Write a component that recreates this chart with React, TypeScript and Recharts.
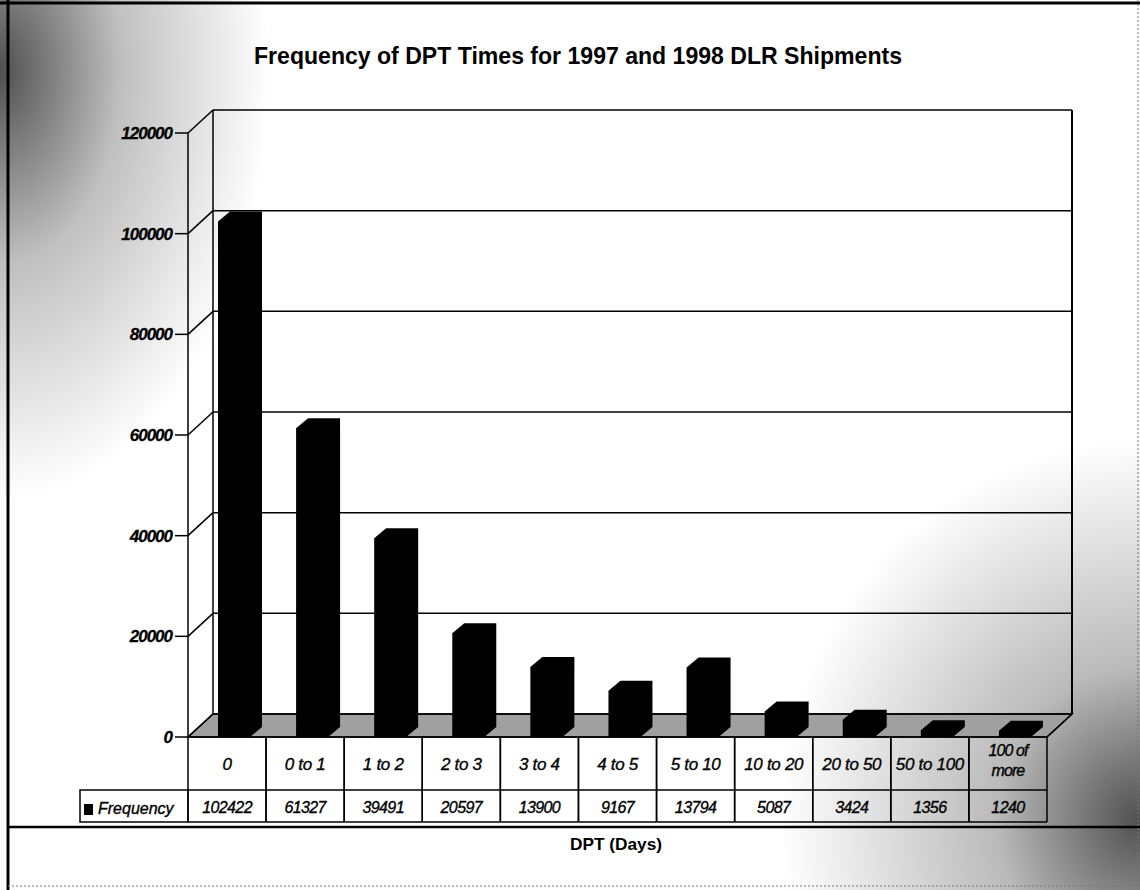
import { Bar, BarChart, CartesianGrid, ReferenceArea, XAxis, YAxis } from "recharts";

const categories = ["0", "0 to 1", "1 to 2", "2 to 3", "3 to 4", "4 to 5", "5 to 10", "10 to 20", "20 to 50", "50 to 100", "100 of more"];
const frequency = [102422, 61327, 39491, 20597, 13900, 9167, 13794, 5087, 3424, 1356, 1240];
const yTicks = [0, 20000, 40000, 60000, 80000, 100000, 120000];

const data = categories.map((name, i) => ({ name, frequency: frequency[i] }));

// depth of the 3d box and of the bars
const DX = 25;
const DY = 23;
const BX = 12;
const BY = 10;
const FONT = "'Liberation Sans', Arial, Helvetica, sans-serif";

function Bar3D(props: any) {
  const { x, y, width, height } = props;
  const l = x + 7;
  const r = l + width;
  const b = y + height;
  const pts = [
    [l, y],
    [l + BX, y - BY],
    [r + BX, y - BY],
    [r + BX, b - BY],
    [r, b],
    [l, b],
  ];
  return <polygon points={pts.map((p) => p.join(",")).join(" ")} fill="#000" />;
}

function gridLine(p: any) {
  const { x1, x2, y1, index } = p;
  return (
    <g key={`g-${index}`}>
      {index === 0 && (
        <polygon
          points={`${x1},${y1} ${x1 + DX},${y1 - DY} ${x2 + DX},${y1 - DY} ${x2},${y1}`}
          fill="#a0a0a0"
          stroke="#000"
          strokeWidth={1.5}
        />
      )}
      <line x1={x1} y1={y1} x2={x1 + DX} y2={y1 - DY} stroke="#000" strokeWidth={1.5} />
      <line x1={x1 + DX} y1={y1 - DY} x2={x2 + DX} y2={y1 - DY} stroke="#000" strokeWidth={1.5} />
    </g>
  );
}

function Walls(props: any) {
  const { x, y, width, height } = props;
  const b = y + height;
  const r = x + width;
  return (
    <g>
      <line x1={x + DX} y1={y - DY} x2={x + DX} y2={b - DY} stroke="#000" strokeWidth={1.5} />
      <line x1={r + DX} y1={y - DY} x2={r + DX} y2={b - DY} stroke="#000" strokeWidth={2} />
      <line x1={r} y1={b} x2={r + DX} y2={b - DY} stroke="#000" strokeWidth={1.5} />
    </g>
  );
}

function YTick(props: any) {
  const { x, y, payload } = props;
  return (
    <text
      x={x}
      y={y}
      dy={6}
      textAnchor="end"
      fontFamily={FONT}
      fontSize={17}
      fontWeight="bold"
      fontStyle="italic"
      letterSpacing={-1}
      fill="#000"
      stroke="#000"
      strokeWidth={0.3}
    >
      {payload.value}
    </text>
  );
}

function TableTick(props: any) {
  const { x, y, payload } = props;
  const i = payload.index;
  const half = payload.offset || 39;
  const l = x - half;
  const r = x + half;
  const label = categories[i];
  const lines = label === "100 of more" ? ["100 of", "more"] : [label];
  const txt = {
    fontFamily: FONT,
    fontStyle: "italic",
    fill: "#000",
    stroke: "#000",
    strokeWidth: 0.35,
    textAnchor: "middle" as const,
  };
  return (
    <g>
      <line x1={l} y1={y} x2={l} y2={y + 85} stroke="#000" strokeWidth={1.5} />
      <line x1={r} y1={y} x2={r} y2={y + 85} stroke="#000" strokeWidth={1.5} />
      <line x1={l} y1={y + 53} x2={r} y2={y + 53} stroke="#000" strokeWidth={1.5} />
      <line x1={l} y1={y + 85} x2={r} y2={y + 85} stroke="#000" strokeWidth={1.5} />
      {lines.length === 1 ? (
        <text x={x} y={y + 33} fontSize={17} letterSpacing={-0.3} {...txt}>
          {label}
        </text>
      ) : (
        <text x={x} y={y + 19} fontSize={16} letterSpacing={-0.9} {...txt}>
          <tspan x={x}>{lines[0]}</tspan>
          <tspan x={x} dy={20}>
            {lines[1]}
          </tspan>
        </text>
      )}
      <text x={x} y={y + 76} fontSize={16} letterSpacing={-0.6} {...txt}>
        {frequency[i]}
      </text>
      {i === 0 && (
        <g>
          <rect x={l - 108} y={y + 53} width={108} height={32} fill="none" stroke="#000" strokeWidth={1.5} />
          <rect x={l - 104} y={y + 67} width={9} height={11} fill="#000" />
          <text
            x={l - 90}
            y={y + 77}
            fontSize={16}
            fontFamily={FONT}
            fontStyle="italic"
            fill="#000"
            stroke="#000"
            strokeWidth={0.35}
          >
            Frequency
          </text>
        </g>
      )}
    </g>
  );
}

export default function App() {
  return (
    <div
      style={{
        position: "absolute",
        left: 0,
        top: 0,
        width: 1140,
        height: 890,
        overflow: "hidden",
        background:
          "radial-gradient(ellipse 270px 430px at 0px 70px, rgba(70,70,70,0.95) 0%, rgba(140,140,140,0.55) 45%, rgba(255,255,255,0) 100%)," +
          "radial-gradient(ellipse 360px 380px at 1140px 820px, rgba(70,70,70,0.95) 0%, rgba(140,140,140,0.6) 40%, rgba(255,255,255,0) 100%), #fff",
      }}
    >
      <div style={{ position: "absolute", left: 0, top: 0 }}>
        <BarChart width={1140} height={890} data={data} margin={{ top: 133, right: 93, left: 0, bottom: 0 }}>
          <CartesianGrid vertical={false} horizontal={gridLine} />
          <ReferenceArea y1={0} y2={120000} shape={Walls} ifOverflow="visible" />
          <XAxis
            dataKey="name"
            interval={0}
            height={153}
            tickLine={false}
            tickSize={0}
            tickMargin={0}
            axisLine={{ stroke: "#000", strokeWidth: 1.5 }}
            tick={TableTick}
          />
          <YAxis
            width={188}
            domain={[0, 120000]}
            ticks={yTicks}
            interval={0}
            tickSize={13}
            tickMargin={3}
            axisLine={{ stroke: "#000", strokeWidth: 1.5 }}
            tickLine={{ stroke: "#000", strokeWidth: 1.5 }}
            tick={YTick}
          />
          <Bar dataKey="frequency" barSize={32} shape={Bar3D} isAnimationActive={false} />
        </BarChart>
      </div>
      <svg width={1140} height={890} style={{ position: "absolute", left: 0, top: 0, pointerEvents: "none" }}>
        <text
          x={578}
          y={64}
          textAnchor="middle"
          fontFamily={FONT}
          fontSize={24}
          fontWeight="bold"
          textLength={648}
          lengthAdjust="spacingAndGlyphs"
          fill="#000"
        >
          Frequency of DPT Times for 1997 and 1998 DLR Shipments
        </text>
        <text
          x={616}
          y={850}
          textAnchor="middle"
          fontFamily={FONT}
          fontSize={17}
          fontWeight="bold"
          textLength={92}
          lengthAdjust="spacingAndGlyphs"
          fill="#000"
        >
          DPT (Days)
        </text>
        <line x1={0} y1={3} x2={1140} y2={3} stroke="#000" strokeWidth={3} />
        <line x1={8} y1={0} x2={8} y2={890} stroke="#000" strokeWidth={3} />
        <line x1={8} y1={827} x2={1140} y2={827} stroke="#000" strokeWidth={2.5} />
        <line x1={8} y1={886} x2={1140} y2={886} stroke="#777" strokeWidth={1} strokeDasharray="2 2" />
        <line x1={1138} y1={0} x2={1138} y2={890} stroke="#777" strokeWidth={1} strokeDasharray="2 2" />
      </svg>
    </div>
  );
}
